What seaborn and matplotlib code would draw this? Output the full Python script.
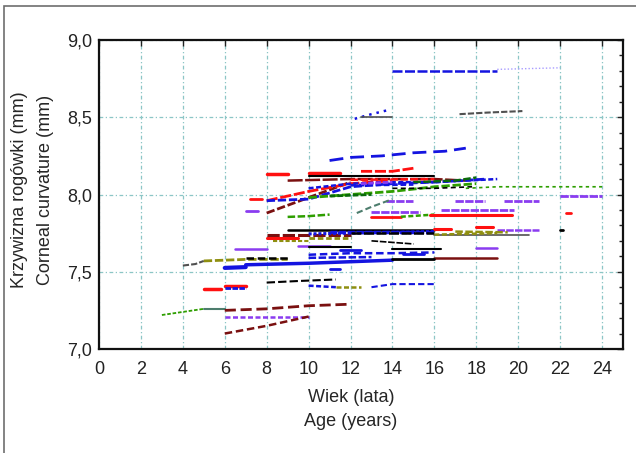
import pandas as pd
import seaborn as sns
import matplotlib.pyplot as plt
import matplotlib.ticker as mticker
from matplotlib.patches import Rectangle

# one list per subject: age (years) and corneal curvature (mm)
subject_age = [
    [14, 16, 19], [19, 22], [12.2, 13.0, 13.9], [12.5, 14.0], [17.2, 18.5, 20.2],
    [11, 12, 13.5, 15, 16.5, 17.5], [12.5, 14, 15], [8, 9], [10, 11.5], [10, 16],
    [9, 12, 16, 17.5], [8, 9, 10, 11, 12], [8, 10, 12, 14], [8, 10, 12, 14, 16, 18.5],
    [10, 12, 14, 16, 19], [10, 12, 14, 16, 18], [14, 16, 17.8], [15, 17, 18],
    [17.5, 19, 24], [22, 24], [19.3, 21], [17, 18.4], [13.7, 15], [7.2, 7.8],
    [7, 7.6], [9, 10, 11], [12.3, 13, 14], [13, 15.3], [13, 14.4], [14.4, 16],
    [15.8, 19.7], [16.3, 19.8], [9, 16], [11, 16], [16, 16.8], [18, 18.8],
    [8, 12], [8, 9.5], [10, 12], [8.3, 10], [16, 20.5], [19, 21], [17, 19.5],
    [13, 14, 15], [18, 19], [6.5, 8], [9.5, 11], [10, 12], [14, 16.3],
    [11.5, 12.5], [10, 12, 14, 16], [4, 4.6, 5], [5, 7, 9], [7, 8, 9], [6, 7],
    [7, 10, 12, 14], [11, 11.5], [16, 19], [14, 16], [14.5, 15.5], [10, 13],
    [8, 9.5, 11.3], [5, 5.8], [6, 7], [6, 7], [10, 11.3], [11.3, 12.5],
    [13, 14, 16], [3, 4, 5], [5, 6], [6, 8, 10, 12], [6, 8, 10], [6, 8, 10],
    [22.3, 22.5], [22, 22.15],
    [10, 12, 14, 16], [12, 16], [16, 19], [11, 13], [12, 16], [12, 15], [12.5, 14],
]
subject_mm = [
    [8.80, 8.80, 8.80], [8.81, 8.82], [8.49, 8.52, 8.55], [8.50, 8.50], [8.52, 8.53, 8.54],
    [8.22, 8.24, 8.25, 8.27, 8.28, 8.30], [8.15, 8.15, 8.17], [8.13, 8.13], [8.14, 8.14], [8.12, 8.12],
    [8.09, 8.10, 8.10, 8.09], [7.88, 7.93, 7.98, 8.03, 8.08], [7.96, 8.02, 8.07, 8.09], [7.96, 7.97, 8.05, 8.07, 8.08, 8.10],
    [8.04, 8.07, 8.08, 8.08, 8.10], [7.98, 8.00, 8.02, 8.05, 8.07], [8.04, 8.04, 8.05], [8.08, 8.09, 8.11],
    [8.04, 8.05, 8.05], [7.99, 7.99], [7.96, 7.96], [7.96, 7.96], [7.955, 7.955], [7.97, 7.97],
    [7.89, 7.89], [7.855, 7.86, 7.87], [7.88, 7.92, 7.97], [7.885, 7.885], [7.856, 7.856], [7.856, 7.87],
    [7.867, 7.867], [7.90, 7.90], [7.77, 7.77], [7.76, 7.76], [7.775, 7.775], [7.79, 7.79],
    [7.735, 7.735], [7.72, 7.72], [7.72, 7.72], [7.70, 7.70], [7.74, 7.74], [7.77, 7.77], [7.76, 7.755],
    [7.70, 7.69, 7.68], [7.655, 7.655], [7.645, 7.645], [7.665, 7.665], [7.66, 7.66], [7.645, 7.645],
    [7.64, 7.64], [7.61, 7.62, 7.62, 7.625], [7.54, 7.55, 7.57], [7.57, 7.58, 7.58], [7.59, 7.59, 7.59], [7.525, 7.53],
    [7.545, 7.555, 7.565, 7.575], [7.52, 7.52], [7.59, 7.59], [7.585, 7.585], [7.615, 7.615], [7.59, 7.595],
    [7.43, 7.44, 7.45], [7.39, 7.39], [7.41, 7.41], [7.395, 7.395], [7.41, 7.40], [7.40, 7.40],
    [7.40, 7.42, 7.42], [7.22, 7.24, 7.26], [7.26, 7.26], [7.25, 7.26, 7.28, 7.29], [7.21, 7.21, 7.21], [7.10, 7.15, 7.21],
    [7.88, 7.88], [7.77, 7.77],
    [7.745, 7.75, 7.755, 7.76], [7.75, 7.75], [7.74, 7.75], [7.99, 8.00], [8.095, 8.10], [8.06, 8.065], [8.07, 8.08],
]

xticks = list(range(0, 25, 2))
yticks = [7.0, 7.5, 8.0, 8.5, 9.0]

# styles per subject (kept apart from the values)
C = {"b": "#1414e0", "lv": "#a89cff", "gy": "#505050", "r": "#ff1010", "k": "#000000",
     "m": "#7a1010", "g": "#2e9e00", "dg": "#0a6a0a", "p": "#8a3cf0", "tg": "#4d7d6d",
     "o": "#8f8f10"}
subject_color = [
    "b", "lv", "b", "gy", "gy", "b", "r", "r", "r", "k",
    "m", "m", "r", "b", "b", "g", "k", "dg", "g", "p",
    "p", "p", "p", "r", "p", "g", "tg", "p", "r", "g",
    "r", "p", "k", "b", "r", "r", "m", "r", "o", "o",
    "gy", "p", "o", "k", "p", "p", "p", "k", "k", "b",
    "b", "gy", "o", "k", "b", "b", "b", "m", "k", "b",
    "b", "k", "r", "r", "b", "b", "o", "b", "g", "tg",
    "m", "p", "m", "r", "k",
    "b", "k", "o", "dg", "r", "b", "p",
]
subject_dash = [
    (4, 1), (1, 1.5), (1, 2), "", (3, 1), (5, 2.5), (4, 1), "", "", "",
    (6, 1), (3, 1), (4, 1), (3, 1), (2, 1), (3, 1), (3, 2), (3, 1), (2, 2), (3, 0.5),
    (3, 0.5), (3, 0.5), (3, 0.5), "", "", (3, 1), (3, 1.5), (3, 0.5), "", (2, 1),
    "", (3, 0.5), "", (2, 0.5), "", "", (4, 1), "", (2, 1), (2, 1),
    "", (3, 0.5), (3, 1), (4, 1), "", "", "", "", "", "",
    (3, 1.5), (3, 1), (3, 1), (3, 1.5), "", "", "", "", "", "",
    (3, 1), (4, 1.5), "", "", (2, 0.5), (2, 1), (2, 1), (3, 1.5), (2, 1), "",
    (4, 1.7), (2, 1), (3, 1.5), "", "",
    (1, 0.6), (4, 1), (2, 1), (2, 0.8), (3, 1), (2, 1), (2, 0.6),
]
subject_width = [
    1.8, 1.0, 1.8, 1.2, 1.5, 2.0, 2.0, 2.5, 2.5, 1.5,
    1.8, 2.0, 2.0, 2.0, 1.8, 2.0, 1.2, 1.8, 1.2, 2.0,
    2.0, 2.0, 2.0, 2.0, 2.0, 1.8, 1.5, 2.0, 2.0, 1.8,
    2.2, 2.0, 1.8, 2.5, 2.2, 2.2, 2.2, 2.2, 2.0, 1.5,
    1.2, 1.8, 1.8, 1.2, 1.8, 1.8, 1.8, 1.5, 1.5, 2.0,
    1.8, 1.5, 2.0, 1.8, 3.0, 2.5, 2.0, 1.8, 2.0, 2.0,
    1.8, 1.5, 2.5, 2.5, 2.0, 1.8, 1.8, 1.5, 1.3, 1.5,
    2.0, 1.8, 1.8, 2.0, 2.0,
    2.2, 1.8, 1.8, 2.0, 1.8, 2.0, 2.0,
]

rows = []
for i, (ages, mms) in enumerate(zip(subject_age, subject_mm)):
    for a, m in zip(ages, mms):
        rows.append({"subject": f"s{i:02d}", "age": a, "mm": m})
df = pd.DataFrame(rows)
names = [f"s{i:02d}" for i in range(len(subject_age))]
pal = {n: C[c] for n, c in zip(names, subject_color)}
dashes = {n: d for n, d in zip(names, subject_dash)}
sizes = {n: w for n, w in zip(names, subject_width)}

sns.set_style("white")
plt.rcParams['font.family'] = ['Liberation Sans', 'DejaVu Sans']
plt.rcParams['font.size'] = 13

fig = plt.figure(figsize=(6.36, 4.53), dpi=100)
ax = fig.add_axes([99 / 636, 1 - 349 / 453, 524 / 636, 309 / 453])

sns.lineplot(data=df, x="age", y="mm", hue="subject", style="subject", size="subject",
             palette=pal, dashes=dashes, sizes=sizes, estimator=None, sort=False,
             legend=False, ax=ax)

ax.set_xlim(0, 25)
ax.set_ylim(7.0, 9.0)
ax.set_xticks(xticks)
ax.set_yticks(yticks)
ax.yaxis.set_minor_locator(mticker.MultipleLocator(0.1))
ax.yaxis.set_major_formatter(mticker.FuncFormatter(lambda v, p: f"{v:.1f}".replace(".", ",")))
ax.grid(True, which="major", color="#8cc6c6", linestyle=(0, (3, 2, 1, 2)), linewidth=0.9)
ax.set_axisbelow(True)
ax.tick_params(which="both", direction="in", top=True, right=True, colors="#222222")
ax.tick_params(which="major", length=4, width=1)
ax.tick_params(which="minor", length=3, width=1)
ax.tick_params(axis="x", pad=9, labelsize=13)
ax.tick_params(axis="y", pad=5, labelsize=13)
for s in ax.spines.values():
    s.set_linewidth(1.6)
    s.set_color("#111111")
ax.set_xlabel("")
ax.set_ylabel("")

fig.text(351 / 636, 1 - 397 / 453, "Wiek (lata)", ha="center", va="center", fontsize=13)
fig.text(351 / 636, 1 - 422 / 453, "Age (years)", ha="center", va="center", fontsize=13)
fig.text(20 / 636, 1 - 190 / 453, "Krzywizna rogówki (mm)", rotation=90, ha="center", va="center", fontsize=13)
fig.text(46 / 636, 1 - 190 / 453, "Corneal curvature (mm)", rotation=90, ha="center", va="center", fontsize=13)

fig.patches.append(Rectangle((4 / 636, -0.1), 1.2, 1.1 - 6 / 453, transform=fig.transFigure,
                             fill=False, edgecolor="#6e6e6e", linewidth=1.2))

plt.savefig("out.png", dpi=100)
